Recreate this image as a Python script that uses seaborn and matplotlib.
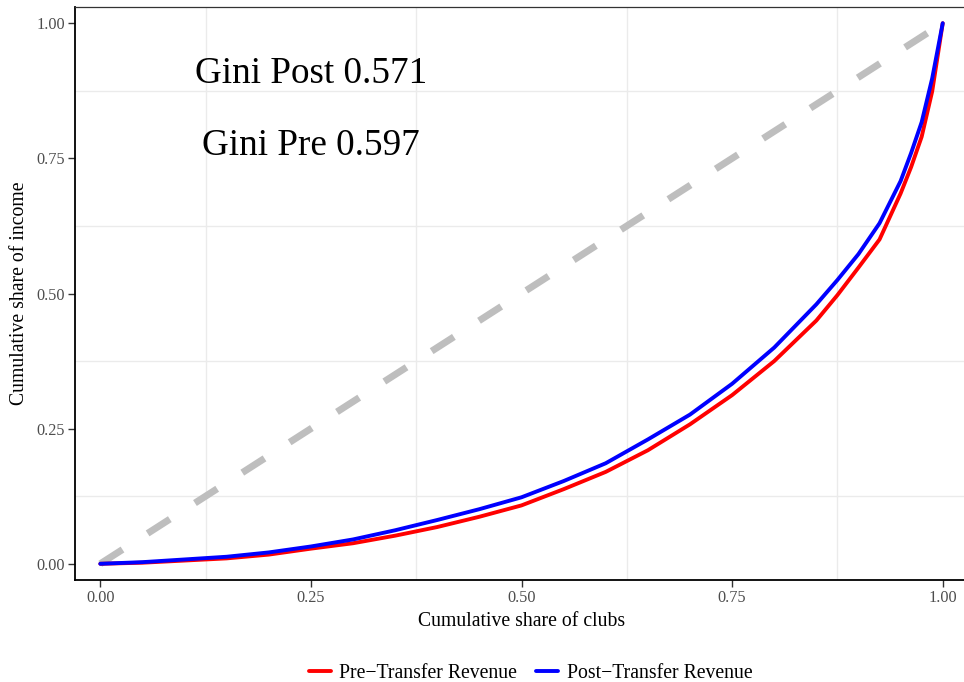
import numpy as np
import pandas as pd
import matplotlib
matplotlib.use("Agg")
import matplotlib.pyplot as plt
from matplotlib.lines import Line2D
import seaborn as sns

# ---- data ----
share_clubs = [0.0, 0.05, 0.10, 0.15, 0.20, 0.25, 0.30, 0.35, 0.40, 0.45, 0.50,
               0.55, 0.60, 0.65, 0.70, 0.75, 0.80, 0.85, 0.875, 0.90, 0.925, 0.95,
               0.9625, 0.975, 0.9875, 1.0]
pre_income = [0.0, 0.002, 0.006, 0.010, 0.017, 0.028, 0.038, 0.052, 0.068, 0.087,
              0.108, 0.138, 0.170, 0.210, 0.258, 0.312, 0.375, 0.450, 0.497, 0.548,
              0.600, 0.685, 0.734, 0.790, 0.874, 1.0]
post_income = [0.0, 0.003, 0.008, 0.013, 0.021, 0.032, 0.045, 0.062, 0.081, 0.101,
               0.123, 0.153, 0.186, 0.230, 0.276, 0.333, 0.400, 0.480, 0.525, 0.573,
               0.630, 0.708, 0.760, 0.817, 0.898, 1.0]
series = ["Pre\u2212Transfer Revenue", "Post\u2212Transfer Revenue"]
colors = ["#FF0000", "#0000FF"]
gini_labels = ["Gini Post 0.571", "Gini Pre 0.597"]
major_ticks = [0.0, 0.25, 0.50, 0.75, 1.0]
tick_labels = ["0.00", "0.25", "0.50", "0.75", "1.00"]
grid_ticks = [0.125, 0.375, 0.625, 0.875]

df = pd.DataFrame({
    "share": share_clubs + share_clubs,
    "income": pre_income + post_income,
    "series": [series[0]] * len(share_clubs) + [series[1]] * len(share_clubs),
})

sns.set_theme(style="white")
plt.rcParams["font.family"] = ["Liberation Serif", "DejaVu Serif"]
plt.rcParams["text.color"] = "black"
plt.rcParams["axes.labelcolor"] = "black"

fig = plt.figure(figsize=(9.64, 6.82), dpi=100)
ax = fig.add_axes([75 / 964, 1 - 580 / 682, 893 / 964, 573 / 682])

# equality line
ax.plot([0, 1], [0, 1], color="#BEBEBE", lw=5, dashes=(3.8, 4.3), zorder=2)

sns.lineplot(data=df, x="share", y="income", hue="series", hue_order=series,
             palette=colors, lw=2.8, estimator=None, sort=False, legend=False,
             ax=ax, zorder=3)

ax.set_xlim(-0.03, 1.03)
ax.set_ylim(-0.03, 1.03)
ax.set_xticks(major_ticks)
ax.set_xticklabels(tick_labels)
ax.set_yticks(major_ticks)
ax.set_yticklabels(tick_labels)
ax.set_xticks(grid_ticks, minor=True)
ax.set_yticks(grid_ticks, minor=True)
ax.grid(False, which="major")
ax.grid(True, which="minor", color="#EBEBEB", lw=1)
ax.set_axisbelow(True)

ax.tick_params(which="major", direction="out", length=5, width=1, color="#333333",
               labelsize=11.7, labelcolor="#4D4D4D", pad=2, bottom=True, left=True)
ax.tick_params(which="minor", length=0)

for side in ["left", "bottom"]:
    ax.spines[side].set_color("black")
    ax.spines[side].set_linewidth(1.3)
ax.spines["top"].set_color("#333333")
ax.spines["top"].set_linewidth(0.9)
ax.spines["right"].set_color("#333333")
ax.spines["right"].set_linewidth(0.9)

ax.set_xlabel("Cumulative share of clubs", fontsize=14.2, color="black", va="center")
ax.set_ylabel("Cumulative share of income", fontsize=14.2, color="black", va="center")
ax.xaxis.set_label_coords(0.5, (580 - 622) / 573)
ax.yaxis.set_label_coords((20 - 75) / 893, 0.5)

ax.text(0.25, 0.889, gini_labels[0], fontsize=26.7, ha="center", va="baseline",
        color="black")
ax.text(0.25, 0.756, gini_labels[1], fontsize=26.7, ha="center", va="baseline",
        color="black")

handles = [Line2D([], [], color=c, lw=2.8) for c in colors]
fig.legend(handles, series, loc="center", bbox_to_anchor=(530.5 / 964, 1 - 673 / 682),
           ncol=2, frameon=False, fontsize=14.2, handlelength=1.1,
           handletextpad=0.45, columnspacing=0.95, labelcolor="black")

fig.savefig("out.png", dpi=100)
